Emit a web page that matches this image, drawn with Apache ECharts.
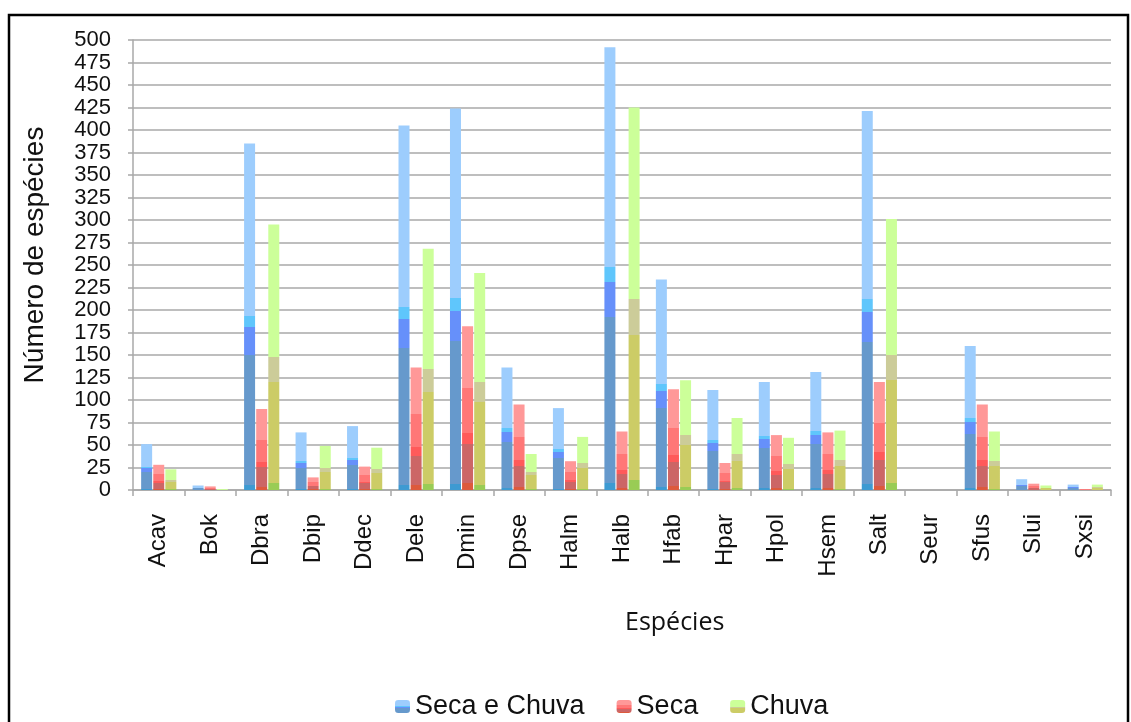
<!DOCTYPE html>
<html>
<head>
<meta charset="utf-8">
<script src="https://cdn.jsdelivr.net/npm/echarts@6/dist/echarts.min.js"></script>
<style>
html,body{margin:0;padding:0;background:#fff;}
#chart{width:1131px;height:722px;}
</style>
</head>
<body>
<div id="chart"></div>
<script>
const categories = ['Acav','Bok','Dbra','Dbip','Ddec','Dele','Dmin','Dpse','Halm','Halb','Hfab','Hpar','Hpol','Hsem','Salt','Seur','Sfus','Slui','Sxsi'];
const secaEChuva = [51, 5, 385, 64, 71, 405, 424, 136, 91, 492, 234, 111, 120, 131, 421, 0, 160, 12, 6];
const seca       = [28, 4, 90, 14, 26, 136, 182, 95, 32, 65, 112, 30, 61, 64, 120, 0, 95, 7, 1];
const chuva      = [23, 1, 295, 49, 47, 268, 241, 40, 59, 425, 122, 80, 58, 66, 301, 0, 65, 5, 6];
const yTicks = {min: 0, max: 500, interval: 25};

function bands(list) {
  // list of [fromOffset, toOffset, color], bottom (0) to top (1)
  const stops = [];
  list.forEach(b => { stops.push({offset: b[0], color: b[2]}); stops.push({offset: b[1], color: b[2]}); });
  return {type: 'linear', x: 0, y: 1, x2: 0, y2: 0, colorStops: stops};
}
const blueFill = bands([[0,0.015,'#3d9ad2'],[0.015,0.39,'#6699cc'],[0.39,0.47,'#6690fa'],[0.47,0.503,'#5fc6fc'],[0.503,1,'#9dcdfd']]);
const redFill = bands([[0,0.04,'#dd5a3c'],[0.04,0.28,'#cc6666'],[0.28,0.35,'#ff5a5a'],[0.35,0.62,'#ff7777'],[0.62,1,'#ff9898']]);
const greenFill = bands([[0,0.025,'#99cc55'],[0.025,0.406,'#cccc66'],[0.406,0.5,'#cccc99'],[0.5,1,'#ccff99']]);

const chart = echarts.init(document.getElementById('chart'), null, {renderer: 'canvas'});
const font = 'Liberation Sans, Arial, sans-serif';
function bar(name, data, fill) {
  return {
    name: name, type: 'bar', data: data,
    barWidth: 11, barGap: '10%',
    itemStyle: {color: fill},
    emphasis: {disabled: true}
  };
}
chart.setOption({
  animation: false,
  backgroundColor: '#fff',
  textStyle: {fontFamily: font},
  title: {
    text: 'Espécies', left: 620, top: 605,
    textStyle: {fontFamily: 'Open Sans, sans-serif', fontSize: 25, fontWeight: 'normal', color: '#111'}
  },
  legend: {
    data: ['Seca e Chuva', 'Seca', 'Chuva'],
    left: 390, top: 688,
    itemWidth: 15, itemHeight: 13, itemGap: 32,
    textStyle: {fontFamily: font, fontSize: 27, color: '#111'}
  },
  grid: {left: 133, right: 20, top: 40, bottom: 232},
  xAxis: {
    type: 'category', data: categories,
    axisLine: {lineStyle: {color: '#a8a8a8', width: 1.5}},
    axisTick: {show: true, length: 6, lineStyle: {color: '#a8a8a8', width: 1.5}},
    axisLabel: {rotate: 90, margin: 24, fontSize: 24, color: '#111', fontFamily: font, interval: 0},
    splitLine: {show: false}
  },
  yAxis: {
    type: 'value', min: yTicks.min, max: yTicks.max, interval: yTicks.interval,
    name: 'Número de espécies', nameLocation: 'middle', nameGap: 84,
    nameTextStyle: {fontFamily: font, fontSize: 28, color: '#111', padding: [0, 0, 0, 20]},
    axisLine: {show: true, lineStyle: {color: '#a8a8a8', width: 1.5}},
    axisTick: {show: true, length: 5, lineStyle: {color: '#a8a8a8', width: 1.5}},
    axisLabel: {fontSize: 22, color: '#111', margin: 22, fontFamily: font},
    splitLine: {lineStyle: {color: '#a8a8a8', width: 1.5}}
  },
  graphic: [{
    type: 'rect', silent: true, z: 100,
    shape: {x: 9, y: 15, width: 1119, height: 730},
    style: {fill: 'none', stroke: '#000', lineWidth: 2.5}
  }],
  series: [
    bar('Seca e Chuva', secaEChuva, blueFill),
    bar('Seca', seca, redFill),
    bar('Chuva', chuva, greenFill)
  ]
});
</script>
</body>
</html>
